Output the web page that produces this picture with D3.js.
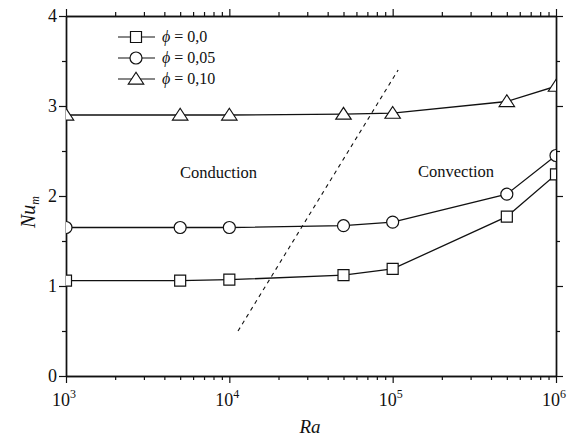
<!DOCTYPE html>
<html>
<head>
<meta charset="utf-8">
<script src="https://cdn.jsdelivr.net/npm/d3@7"></script>
<style>
  body { margin: 0; background: #fff; }
  svg text { font-family: "Liberation Serif", "Times New Roman", serif; fill: #111; }
</style>
</head>
<body>
<svg id="chart"></svg>
<script>
// Ra values and mean Nusselt numbers per volume fraction
const raValues = [1e3, 5e3, 1e4, 5e4, 1e5, 5e5, 1e6];
const nuPhi000 = [1.06, 1.06, 1.07, 1.12, 1.19, 1.77, 2.24];
const nuPhi005 = [1.65, 1.65, 1.65, 1.67, 1.71, 2.02, 2.45];
const nuPhi010 = [2.90, 2.90, 2.90, 2.91, 2.92, 3.05, 3.22];
const seriesLabels = ['0,0', '0,05', '0,10'];
const seriesMarkers = ['square', 'circle', 'triangle'];
// dashed boundary between conduction and convection regimes
const boundaryRa = [1.13e4, 1.08e5];
const boundaryNu = [0.50, 3.40];
const xTickExps = [3, 4, 5, 6];
const yTicks = [0, 1, 2, 3, 4];

const width = 567, height = 441;
const margin = { top: 16, right: 11, bottom: 65, left: 66 };
const innerW = width - margin.left - margin.right;
const innerH = height - margin.top - margin.bottom;

const svg = d3.select('#chart').attr('width', width).attr('height', height);
const chart = svg.append('g').attr('transform', `translate(${margin.left},${margin.top})`);

const xScale = d3.scaleLog().domain([1e3, 1e6]).range([0, innerW]);
const yScale = d3.scaleLinear().domain([0, 4]).range([innerH, 0]);

chart.append('clipPath').attr('id', 'clip')
  .append('rect').attr('width', innerW).attr('height', innerH);

// minor ticks on log axis
const minorX = [];
for (let e = 3; e < 6; e++) for (let m = 2; m <= 9; m++) minorX.push(m * Math.pow(10, e));
const minorY = [0.5, 1.5, 2.5, 3.5];

const axisStyle = g => {
  g.select('.domain').attr('stroke', '#111').attr('stroke-width', 1.4);
  g.selectAll('.tick line').attr('stroke', '#111').attr('stroke-width', 1.2);
  g.selectAll('text').remove();
};

// bottom/top major + minor
const xMajor = xTickExps.map(e => Math.pow(10, e));
chart.append('g').attr('transform', `translate(0,${innerH})`)
  .call(d3.axisBottom(xScale).tickValues(xMajor).tickSize(7).tickSizeOuter(0)).call(axisStyle);
chart.append('g').attr('transform', `translate(0,${innerH})`)
  .call(d3.axisBottom(xScale).tickValues(minorX).tickSize(4).tickSizeOuter(0)).call(axisStyle);
chart.append('g')
  .call(d3.axisTop(xScale).tickValues(xMajor).tickSize(7).tickSizeOuter(0)).call(axisStyle);
chart.append('g')
  .call(d3.axisTop(xScale).tickValues(minorX).tickSize(4).tickSizeOuter(0)).call(axisStyle);

chart.append('g')
  .call(d3.axisLeft(yScale).tickValues(yTicks).tickSize(7).tickSizeOuter(0)).call(axisStyle);
chart.append('g')
  .call(d3.axisLeft(yScale).tickValues(minorY).tickSize(4).tickSizeOuter(0)).call(axisStyle);
chart.append('g').attr('transform', `translate(${innerW},0)`)
  .call(d3.axisRight(yScale).tickValues(yTicks).tickSize(7).tickSizeOuter(0)).call(axisStyle);
chart.append('g').attr('transform', `translate(${innerW},0)`)
  .call(d3.axisRight(yScale).tickValues(minorY).tickSize(4).tickSizeOuter(0)).call(axisStyle);

// tick labels
yTicks.forEach(v => {
  chart.append('text')
    .attr('x', -9).attr('y', yScale(v) + 6)
    .attr('text-anchor', 'end').style('font-size', '18px')
    .text(v);
});
xTickExps.forEach(e => {
  const t = chart.append('text')
    .attr('x', xScale(Math.pow(10, e)) - 2).attr('y', innerH + 30)
    .attr('text-anchor', 'middle').style('font-size', '18px');
  t.append('tspan').text('10');
  t.append('tspan').attr('dy', -8).style('font-size', '12px').text(e);
});

// axis titles
svg.append('text')
  .attr('x', margin.left + innerW / 2 - 1).attr('y', 433)
  .attr('text-anchor', 'middle').style('font-size', '19px').style('font-style', 'italic')
  .text('Ra');
const yTitle = svg.append('text')
  .attr('transform', 'translate(35,212) rotate(-90)')
  .attr('text-anchor', 'middle').style('font-size', '20px').style('font-style', 'italic');
yTitle.append('tspan').text('Nu');
yTitle.append('tspan').attr('dy', 4).style('font-size', '12px').text('m');

const plot = chart.append('g').attr('clip-path', 'url(#clip)');

// regime boundary
plot.append('line')
  .attr('x1', xScale(boundaryRa[0])).attr('y1', yScale(boundaryNu[0]))
  .attr('x2', xScale(boundaryRa[1])).attr('y2', yScale(boundaryNu[1]))
  .attr('stroke', '#111').attr('stroke-width', 1.1).attr('stroke-dasharray', '4,4');

const markerPath = (type, size) => {
  if (type === 'square') return d3.symbol(d3.symbolSquare, size * size)();
  if (type === 'circle') return d3.symbol(d3.symbolCircle, Math.PI * (size / 2) * (size / 2))();
  const h = size * 0.8, w = size * 1.1;
  return `M0,${-h * 0.6}L${w / 2},${h * 0.45}L${-w / 2},${h * 0.45}Z`;
};

const line = d3.line().x(d => xScale(d[0])).y(d => yScale(d[1]));
const allSeries = [nuPhi000, nuPhi005, nuPhi010];
allSeries.forEach((vals, i) => {
  const pts = raValues.map((r, j) => [r, vals[j]]);
  plot.append('path').datum(pts)
    .attr('d', line).attr('fill', 'none').attr('stroke', '#111').attr('stroke-width', 1.3);
  const size = seriesMarkers[i] === 'square' ? 11 : (seriesMarkers[i] === 'circle' ? 12 : 14);
  plot.selectAll(null).data(pts).join('path')
    .attr('transform', d => `translate(${xScale(d[0])},${yScale(d[1])})`)
    .attr('d', markerPath(seriesMarkers[i], size))
    .attr('fill', '#fff').attr('stroke', '#111').attr('stroke-width', 1.2);
});

// region labels
chart.append('text').attr('x', 114).attr('y', 162)
  .style('font-size', '16.5px').text('Conduction');
chart.append('text').attr('x', 352).attr('y', 161)
  .style('font-size', '16.5px').text('Convection');

// legend
const legend = chart.append('g').attr('transform', 'translate(52,21)');
seriesLabels.forEach((lab, i) => {
  const g = legend.append('g').attr('transform', `translate(0,${i * 21})`);
  g.append('line').attr('x1', 0).attr('x2', 37).attr('y1', 0).attr('y2', 0)
    .attr('stroke', '#111').attr('stroke-width', 1.2);
  const size = seriesMarkers[i] === 'square' ? 11 : (seriesMarkers[i] === 'circle' ? 12 : 14);
  g.append('path').attr('transform', 'translate(18,0)')
    .attr('d', markerPath(seriesMarkers[i], size))
    .attr('fill', '#fff').attr('stroke', '#111').attr('stroke-width', 1.2);
  const t = g.append('text').attr('x', 44).attr('y', 5).style('font-size', '16px');
  t.append('tspan').style('font-style', 'italic').text('\u03d5');
  t.append('tspan').text(' = ' + lab);
});
</script>
</body>
</html>
